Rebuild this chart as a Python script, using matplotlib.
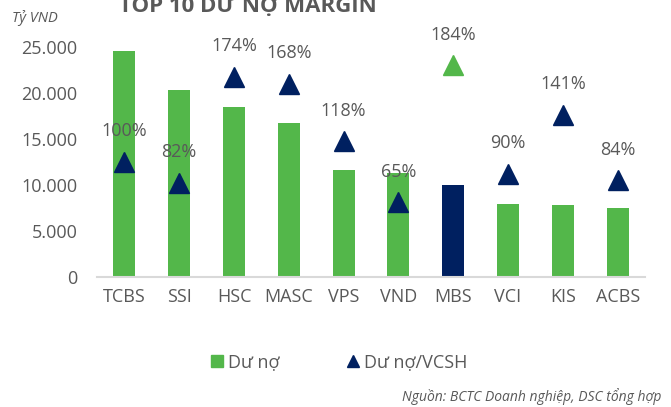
import matplotlib
matplotlib.use("Agg")
import matplotlib.pyplot as plt

plt.rcParams['font.family'] = ['Open Sans', 'DejaVu Sans']

categories = ["TCBS", "SSI", "HSC", "MASC", "VPS", "VND", "MBS", "VCI", "KIS", "ACBS"]
du_no = [24600, 20300, 18500, 16700, 11600, 11300, 10000, 7900, 7800, 7500]
du_no_vcsh = [100, 82, 174, 168, 118, 65, 184, 90, 141, 84]
y_ticks = [0, 5000, 10000, 15000, 20000, 25000]
y_tick_labels = ["0", "5.000", "10.000", "15.000", "20.000", "25.000"]

GREEN = "#53B74A"
NAVY = "#002060"
TXT = "#595959"
highlight = "MBS"

fig = plt.figure(figsize=(6.71, 4.07), dpi=100)
ax = fig.add_axes([0.1446, 0.3194, 0.8167, 0.5651])
x = list(range(len(categories)))
bar_colors = [NAVY if c == highlight else GREEN for c in categories]
ax.bar(x, du_no, width=0.4, color=bar_colors, zorder=2)
ax.set_xlim(-0.5, len(categories) - 0.5)
ax.set_ylim(0, 25000)
ax.set_yticks(y_ticks)
ax.set_yticklabels(y_tick_labels)
ax.set_xticks(x)
ax.set_xticklabels(categories)
ax.tick_params(axis='both', length=0, colors=TXT, labelsize=13)
ax.tick_params(axis='y', pad=14)
ax.tick_params(axis='x', pad=8)
for s in ['top', 'right', 'left']:
    ax.spines[s].set_visible(False)
ax.spines['bottom'].set_color('#D9D9D9')
ax.spines['bottom'].set_linewidth(1.5)

ax2 = ax.twinx()
ax2.set_ylim(0, 200)
ax2.axis('off')
tri_colors = [GREEN if c == highlight else NAVY for c in categories]
for xi, v, c in zip(x, du_no_vcsh, tri_colors):
    ax2.plot(xi, v, marker='^', markersize=14, color=c, linestyle='none', zorder=3)
    ax2.annotate(f"{v}%", (xi, v), xytext=(0, 22), textcoords='offset points',
                 ha='center', va='center', fontsize=13, color=TXT)

fig.text(0.37, 0.985, "TOP 10 DƯ NỢ MARGIN", ha='center', va='center',
         fontsize=16, fontweight='bold', color=TXT)
fig.text(0.018, 0.955, "Tỷ VND", ha='left', va='center', fontsize=10.5,
         style='italic', color=TXT)

from matplotlib.lines import Line2D
handles = [Line2D([], [], marker='s', color=GREEN, linestyle='none', markersize=9),
           Line2D([], [], marker='^', color=NAVY, linestyle='none', markersize=9)]
fig.legend(handles, ["Dư nợ", "Dư nợ/VCSH"], loc='center', bbox_to_anchor=(0.503, 0.11),
           ncol=2, frameon=False, fontsize=13, labelcolor=TXT, handletextpad=0.1,
           columnspacing=3.6, handlelength=1.0)
fig.text(0.985, 0.027, "Nguồn: BCTC Doanh nghiệp, DSC tổng hợp", ha='right', va='center',
         fontsize=10, style='italic', color=TXT)

fig.savefig("out.png", dpi=100)
